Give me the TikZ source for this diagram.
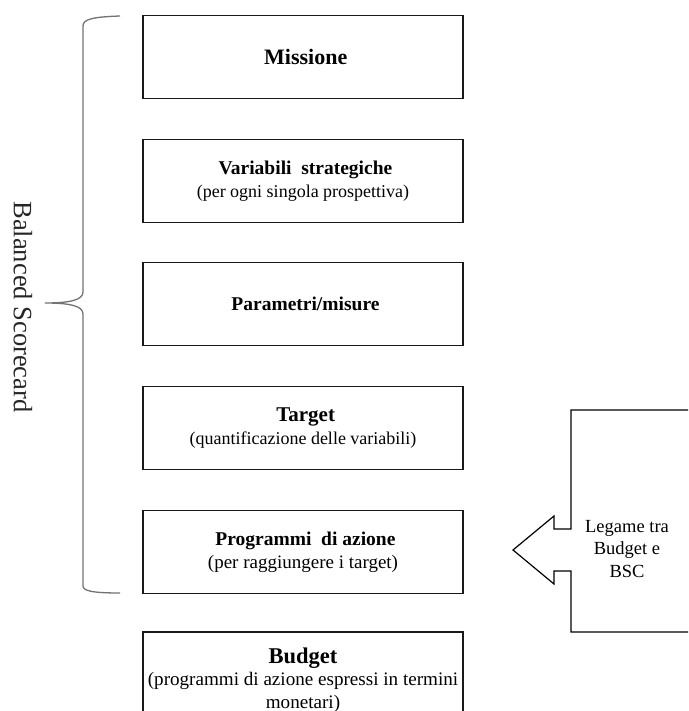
\documentclass[tikz,border=0pt]{standalone}
\usepackage{fontspec}
\setmainfont{Liberation Serif}
\newcommand{\fsz}[1]{\fontsize{#1}{23}\selectfont}
\begin{document}
\begin{tikzpicture}[x=1pt,y=1pt,
  stepbox/.style={draw=black!90, line width=1.2pt, minimum width=320pt, minimum height=83pt,
    align=center, inner sep=0pt, font=\fontsize{18}{23}\selectfont},
  bracestyle/.style={draw=black!55, line width=1.3pt},
  calloutstyle/.style={draw=black, line width=1.2pt}]
\clip (0,0) rectangle (688,711);
\fill[white] (0,0) rectangle (688,711);

\node[stepbox] (mis) at (303,654) {\textbf{\fsz{22} Missione}};
\node[stepbox] (var) at (303,530) {{\bfseries\fsz{19.5} Variabili\hspace{0.25em} strategiche}\\(per ogni singola prospettiva)};
\node[stepbox] (par) at (303,407) {\textbf{\fsz{19.5} Parametri/misure}};
\node[stepbox] (tar) at (303,283) {{\bfseries\fsz{21} Target}\\(quantificazione delle variabili)};
\node[stepbox, font=\fontsize{19}{23}\selectfont] (prog) at (303,159) {{\bfseries\fsz{19.5} Programmi\hspace{0.25em} di azione}\\(per raggiungere i target)};
\node[stepbox, minimum height=110pt] (bud) at (303,24) {};
\node[align=center, font=\fontsize{19.1}{22.5}\selectfont] (budtxt) at (303,31)
  {{\bfseries\fontsize{22.5}{22.5}\selectfont Budget}\\(programmi di azione espressi in termini\\monetari)};

% brace
\draw[bracestyle] (120,695) .. controls (93,694) and (83,692) .. (83,685)
  -- (83,419) .. controls (83,411) and (70,408) .. (45,408)
  .. controls (70,408) and (83,405) .. (83,397)
  -- (83,125) .. controls (83,120) and (93,118) .. (120,118);
\node[rotate=-90, text=black!85, font=\fontsize{26.5}{28}\selectfont] (bsc) at (23,404) {Balanced Scorecard};

% callout arrow
\draw[calloutstyle, line join=miter] (571,301) -- (700,301) -- (700,79) -- (571,79) -- (571,140)
  -- (554,140) -- (554,127) -- (513,161) -- (554,195) -- (554,182) -- (571,182) -- cycle;
\node[align=center, font=\fontsize{18.5}{22.5}\selectfont] (leg) at (627,162) {Legame tra\\Budget e\\BSC};
\end{tikzpicture}
\end{document}
